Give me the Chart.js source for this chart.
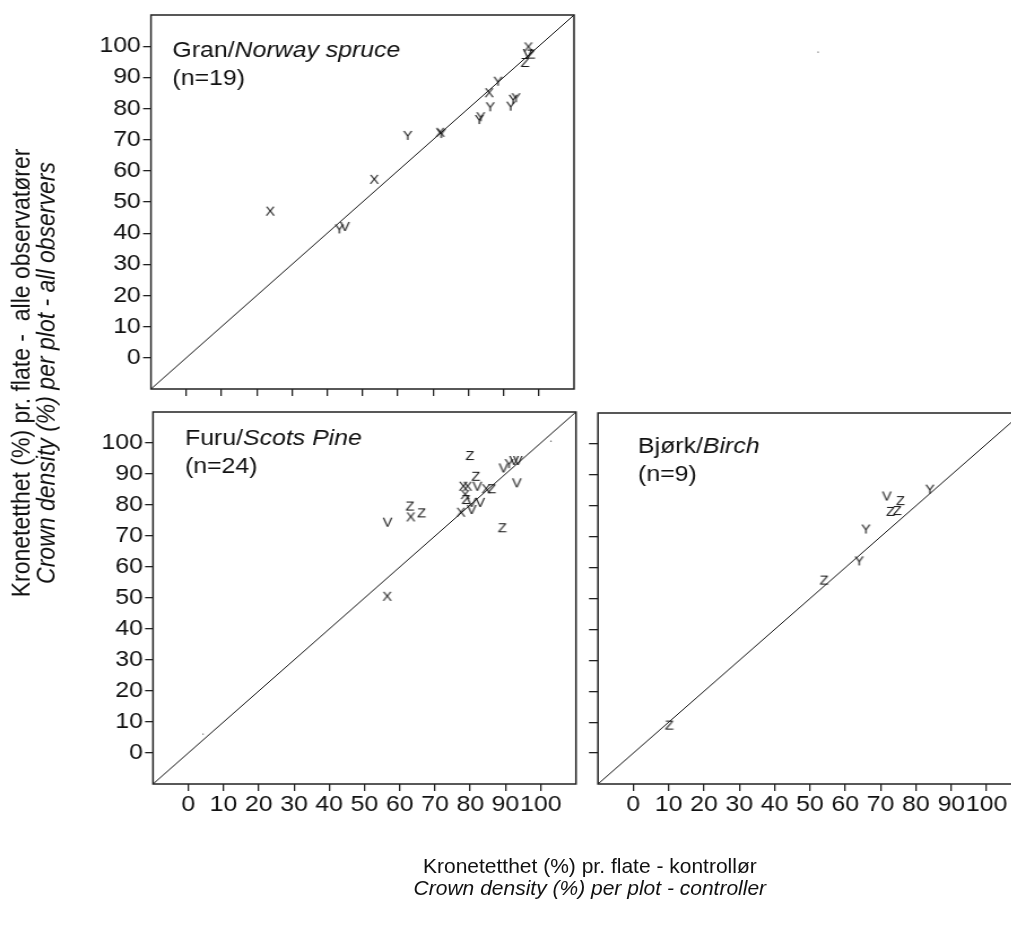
<!DOCTYPE html>
<html>
<head>
<meta charset="utf-8">
<title>Kronetetthet</title>
<script src="https://cdn.jsdelivr.net/npm/chart.js@4.4.0/dist/chart.umd.min.js"></script>
<style>
    html, body {
        margin: 0;
        padding: 0;
        overflow: hidden;
        background: #ffffff;
    }
    /* hele figuren strekkes litt i bredden */
    #figur {
        position: absolute;
        left: 0;
        top: 0;
        width: 895px;
        height: 936px;
        overflow: hidden;
        transform: scaleX(1.13);
        transform-origin: 0 0;
    }
    #figur canvas {
        position: absolute;
    }
    .aksetittel {
        position: absolute;
        font-family: "Liberation Sans", Arial, sans-serif;
        font-size: 21px;
        line-height: 22px;
        color: #111;
        text-align: center;
        white-space: nowrap;
        /* x-tittelen skal ikke strekkes med resten */
        transform: scaleX(0.885);
        transform-origin: 50% 50%;
    }
    .aksetittel i {
        font-style: italic;
    }
    .aksetittel.loddrett {
        font-size: 23px;
        line-height: 22px;
        transform: rotate(-90deg);
    }
</style>
</head>
<body>
<div id="figur">
    <canvas id="panelGran"></canvas>
    <canvas id="panelTom"></canvas>
    <canvas id="panelFuru"></canvas>
    <canvas id="panelBjork"></canvas>

    <div class="aksetittel" style="left:272px; top:855px; width:500px;">
        Kronetetthet (%) pr. flate - kontrollør<br><i>Crown density (%) per plot - controller</i>
    </div>
    <div class="aksetittel loddrett" style="left:-211px; top:351px; width:480px; height:44px;">
        Kronetetthet (%) pr. flate -&nbsp; alle observatører<br><i>Crown density (%) per plot - all observers</i>
    </div>
</div>

<script>
// Aksene går fra -10 til 110, merket 0-100
const aksemin = -10;
const aksemaks = 110;
const aksetikker = [0, 10, 20, 30, 40, 50, 60, 70, 80, 90, 100];

// Gran / Norway spruce: [kontrollør, observatør]
const granX = [[23.8, 46.9], [53.3, 57.1], [72.0, 72.2], [85.9, 84.9], [97.0, 99.6]];
const granY = [[43.4, 41.2], [62.8, 71.2], [72.3, 71.8], [83.1, 76.3], [83.5, 77.2],
               [86.2, 80.4], [88.4, 88.6], [92.0, 80.6], [92.7, 82.8], [93.5, 83.3]];
const granZ = [[96.1, 94.6], [97.8, 97.3]];
const granV = [[45.0, 42.0], [96.8, 97.5]];

// Furu / Scots Pine
const furuX = [[56.4, 50.4], [63.1, 76.0], [77.3, 77.5], [78.0, 85.9], [78.5, 83.2], [79.2, 85.9], [84.5, 85.1]];
const furuY = [[91.0, 93.2]];
const furuZ = [[62.9, 79.5], [66.2, 77.3], [78.8, 81.6], [79.9, 95.8], [81.6, 89.1], [86.1, 85.1], [89.1, 72.5]];
const furuV = [[56.5, 74.3], [80.4, 78.4], [80.4, 80.7], [82.0, 85.9], [82.8, 80.7],
               [89.4, 91.8], [92.4, 94.2], [93.5, 94.2], [93.2, 87.0]];
const furuPunkt = [[4.2, 6.1], [102.9, 100.6]];

// Bjørk / Birch
const bjorkY = [[63.9, 62.0], [65.8, 72.3], [83.9, 85.2]];
const bjorkZ = [[10.2, 8.9], [54.0, 55.8], [72.8, 78.0], [74.7, 78.3], [75.6, 81.5]];
const bjorkV = [[71.7, 83.0]];

// løst punkt oppe til høyre
const tomPunkt = [[52.3, 98.1]];

const skrift = '"Liberation Sans", Arial, sans-serif';

// Bokstav som punktsymbol
function bokstavMerke(bokstav) {
    const c = document.createElement('canvas');
    c.width = 14;
    c.height = 16;
    const g = c.getContext('2d');
    g.font = '13px ' + skrift;
    g.fillStyle = '#151515';
    g.textAlign = 'center';
    g.textBaseline = 'middle';
    g.fillText(bokstav, 7, 8.5);
    return c;
}

function tilPunkter(par) {
    return par.map(p => ({ x: p[0], y: p[1] }));
}

function bokstavSett(bokstav, par) {
    return {
        data: tilPunkter(par),
        pointStyle: bokstavMerke(bokstav),
        showLine: false,
        order: 1
    };
}

function diagonalSett() {
    return {
        type: 'line',
        data: tilPunkter([[aksemin, aksemin], [aksemaks, aksemaks]]),
        borderColor: '#111',
        borderWidth: 1,
        pointRadius: 0,
        showLine: true,
        fill: false,
        order: 2
    };
}

// Ramme rundt plottområdet + tittel inne i panelet
const rammePlugin = {
    id: 'ramme',
    afterDraw(chart, args, opts) {
        if (!opts.vis) return;
        const ctx = chart.ctx;
        const a = chart.chartArea;
        ctx.save();
        ctx.strokeStyle = '#222';
        ctx.lineWidth = 1.5;
        ctx.strokeRect(a.left, a.top, a.right - a.left, a.bottom - a.top);

        if (opts.tittel) {
            const x = a.left + opts.dx;
            const y = a.top + opts.dy;
            ctx.fillStyle = '#111';
            ctx.textBaseline = 'alphabetic';
            ctx.textAlign = 'left';
            ctx.font = '22px ' + skrift;
            ctx.fillText(opts.tittel, x, y);
            const b = ctx.measureText(opts.tittel).width;
            ctx.font = 'italic 22px ' + skrift;
            ctx.fillText(opts.kursiv, x + b, y);
            ctx.font = '22px ' + skrift;
            ctx.fillText(opts.antall, x, y + 28);
        }
        ctx.restore();
    }
};

function lagAkse(bredde, visEtiketter, tikklengde, erX) {
    return {
        type: 'linear',
        min: aksemin,
        max: aksemaks,
        afterBuildTicks(scale) {
            scale.ticks = aksetikker.map(v => ({ value: v }));
        },
        afterFit(scale) {
            if (erX) {
                scale.height = bredde;
            } else {
                scale.width = bredde;
            }
            scale.paddingTop = 0;
            scale.paddingBottom = 0;
            scale.paddingLeft = 0;
            scale.paddingRight = 0;
        },
        border: { display: false },
        grid: {
            display: true,
            drawOnChartArea: false,
            drawTicks: true,
            tickLength: tikklengde,
            color: '#222',
            lineWidth: 1.3
        },
        ticks: {
            display: visEtiketter,
            padding: erX ? 1 : 2,
            color: '#111',
            maxRotation: 0,
            autoSkip: false,
            font: { family: skrift, size: 22 }
        }
    };
}

function lagPanel(id, pos, datasett, oppsett) {
    const lerret = document.getElementById(id);
    lerret.style.left = pos.left + 'px';
    lerret.style.top = pos.top + 'px';
    lerret.width = pos.width;
    lerret.height = pos.height;

    return new Chart(lerret.getContext('2d'), {
        type: 'scatter',
        data: { datasets: datasett },
        options: {
            responsive: false,
            animation: false,
            events: [],
            layout: { padding: oppsett.padding },
            plugins: {
                legend: { display: false },
                tooltip: { enabled: false },
                ramme: oppsett.ramme
            },
            scales: oppsett.skalaer
        },
        plugins: [rammePlugin]
    });
}

document.addEventListener('DOMContentLoaded', function() {
    // Gran, øverst til venstre
    lagPanel('panelGran', { left: 0, top: 0, width: 520, height: 400 }, [
        diagonalSett(),
        bokstavSett('X', granX),
        bokstavSett('Y', granY),
        bokstavSett('Z', granZ),
        bokstavSett('V', granV)
    ], {
        padding: { top: 15, right: 12, left: 0, bottom: 0 },
        ramme: { vis: true, tittel: 'Gran/', kursiv: 'Norway spruce', antall: '(n=19)', dx: 19, dy: 42 },
        skalaer: {
            x: lagAkse(11, false, 7, true),
            y: lagAkse(133.6, true, 7, false)
        }
    });

    // tomt panel oppe til høyre, bare ett løst punkt
    lagPanel('panelTom', { left: 520, top: 0, width: 400, height: 400 }, [
        {
            data: tilPunkter(tomPunkt),
            pointStyle: 'circle',
            pointRadius: 0.7,
            backgroundColor: '#555',
            borderWidth: 0
        }
    ], {
        padding: { top: 15, right: 15.6, left: 9.2, bottom: 11 },
        ramme: { vis: false },
        skalaer: {
            x: { type: 'linear', min: aksemin, max: aksemaks, display: false },
            y: { type: 'linear', min: aksemin, max: aksemaks, display: false }
        }
    });

    // Furu, nederst til venstre
    lagPanel('panelFuru', { left: 0, top: 400, width: 520, height: 440 }, [
        diagonalSett(),
        bokstavSett('X', furuX),
        bokstavSett('Y', furuY),
        bokstavSett('Z', furuZ),
        bokstavSett('V', furuV),
        {
            data: tilPunkter(furuPunkt),
            pointStyle: 'circle',
            pointRadius: 0.7,
            backgroundColor: '#555',
            borderWidth: 0,
            order: 1
        }
    ], {
        padding: { top: 12, right: 10.3, left: 0, bottom: 0 },
        ramme: { vis: true, tittel: 'Furu/', kursiv: 'Scots Pine', antall: '(n=24)', dx: 28.3, dy: 33 },
        skalaer: {
            x: lagAkse(56, true, 7, true),
            y: lagAkse(135.4, true, 7, false)
        }
    });

    // Bjørk, nederst til høyre
    lagPanel('panelBjork', { left: 520, top: 400, width: 400, height: 440 }, [
        diagonalSett(),
        bokstavSett('Y', bjorkY),
        bokstavSett('Z', bjorkZ),
        bokstavSett('V', bjorkV)
    ], {
        padding: { top: 13, right: 15.6, left: 0, bottom: 0 },
        ramme: { vis: true, tittel: 'Bjørk/', kursiv: 'Birch', antall: '(n=9)', dx: 35.4, dy: 40 },
        skalaer: {
            x: lagAkse(56, true, 7, true),
            y: lagAkse(9.2, false, 8, false)
        }
    });
});
</script>
</body>
</html>
